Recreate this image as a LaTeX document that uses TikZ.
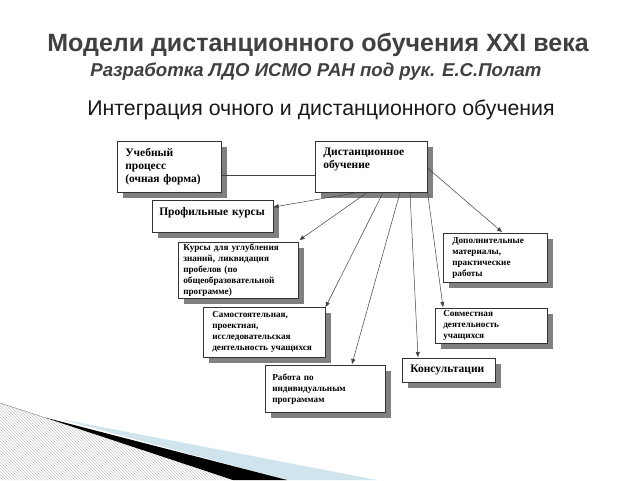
\documentclass[tikz,border=0pt]{standalone}
\usepackage{fontspec}
\setmainfont{Liberation Serif}
\newfontfamily\hdfont{Liberation Sans}
\usetikzlibrary{shadows,calc,patterns,arrows.meta}
\definecolor{titlegray}{HTML}{404040}
\definecolor{shadowgray}{HTML}{808080}
\definecolor{swooshblue}{RGB}{208,228,238}
\begin{document}
\begin{tikzpicture}[x=1pt,y=-1pt,
  box/.style={draw=black!80, line width=0.6pt, fill=white, anchor=north west,
    inner ysep=0pt, align=left, font=\bfseries,
    drop shadow={shadow xshift=6pt,shadow yshift=-6pt,fill=shadowgray,opacity=1}},
  small/.style={font=\bfseries\fontsize{9.2}{11}\selectfont},
  big/.style={font=\bfseries\fontsize{11.5}{13}\selectfont},
  conn/.style={draw=black!75, line width=0.5pt},
  arr/.style={conn, -{Triangle[length=5pt,width=4pt]}}
]
\useasboundingbox (0,0) rectangle (640,480);
\fill[white] (0,0) rectangle (640,480);

% headings
\node[font=\hdfont\bfseries\fontsize{25}{29}\selectfont, text=titlegray] (title) at (318,45)
  {Модели дистанционного обучения XXI века};
\node[font=\hdfont\bfseries\itshape\fontsize{18.6}{22}\selectfont, text=titlegray] (subtitle) at (316,72)
  {Разработка ЛДО ИСМО РАН под рук. Е.С.Полат};
\node[font=\hdfont\fontsize{21.3}{25}\selectfont, text=black!90] (heading) at (321,110)
  {Интеграция очного и дистанционного обучения};

% boxes
\node[box, big, inner xsep=8pt, text width=88pt, minimum height=51pt] (up) at (117,141)
  {Учебный\\процесс\\(очная форма)};
\node[box, big, inner xsep=8pt, text width=96pt, minimum height=51pt] (d) at (315,141)
  {Дистанционное\\обучение\\[4pt]\mbox{}};
\node[box, big, inner xsep=7pt, text width=107pt, minimum height=32pt] (prof) at (152,200)
  {Профильные курсы\\[-3pt]\mbox{}};
\node[box, small, inner xsep=5pt, text width=110pt, minimum height=56pt] (deep) at (178,242)
  {Курсы для углубления\\знаний, ликвидация\\пробелов (по\\общеобразовательной\\программе)};
\node[box, small, inner xsep=9pt, text width=86pt, minimum height=49pt] (dop) at (443,233)
  {Дополнительные\\материалы,\\практические\\работы};
\node[box, small, inner xsep=9pt, text width=104pt, minimum height=50pt] (self) at (203,307)
  {Самостоятельная,\\проектная,\\исследовательская\\деятельность учащихся};
\node[box, small, inner xsep=8pt, text width=96pt, minimum height=35pt] (sovm) at (435,308)
  {Совместная\\деятельность\\учащихся};
\node[box, big, inner xsep=8pt, text width=77pt, minimum height=24pt] (cons) at (402,358)
  {Консультации};
\node[box, small, inner xsep=7pt, text width=106pt, minimum height=47pt] (ind) at (265,365)
  {Работа по\\индивидуальным\\программам};

% connectors
\draw[conn] ($(up.north east)+(0,34)$) -- ($(d.north west)+(0,34)$);
\draw[arr] ($(d.south west)+(42,0)$) -- ($(prof.north east)+(0,7)$);
\draw[arr] ($(d.south west)+(52,0)$) -- ($(deep.north east)+(1,-2)$);
\draw[arr] ($(d.south west)+(68,0)$) -- (self.north east);
\draw[arr] ($(d.south west)+(85,0)$) -- ($(ind.north west)+(87,-1)$);
\draw[arr] ($(d.south west)+(95,0)$) -- ($(cons.north west)+(16,-1)$);
\draw[arr] (d.south east) -- ($(sovm.north west)+(8,-1)$);
\draw[arr] ($(d.north east)+(0,27)$) -- ($(dop.north west)+(59,-1)$);

% bottom-left decoration
\fill[pattern=north west lines, pattern color=black!22] (0,403) -- (233,480) -- (0,480) -- cycle;
\fill[swooshblue] (60,419) -- (377,480) -- (287,480) -- cycle;
\fill[black] (43,417) -- (287,480) -- (233,480) -- cycle;
\draw[black!45, line width=0.5pt] (0,403) -- (43,417);
\end{tikzpicture}
\end{document}
